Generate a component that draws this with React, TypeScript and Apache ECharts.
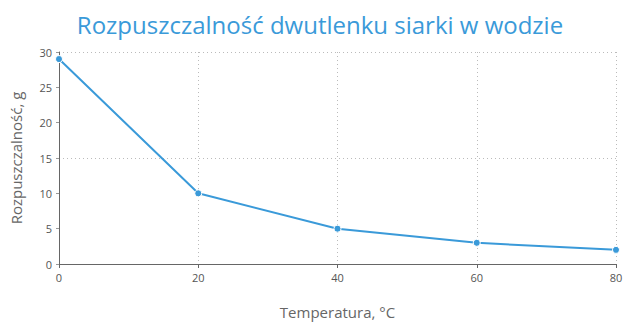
import React, { useEffect, useRef } from "react";
import * as echarts from "echarts";

const temperatures = [0, 20, 40, 60, 80];
const solubility = [29, 10, 5, 3, 2];
const titleText = "Rozpuszczalność dwutlenku siarki w wodzie";
const xName = "Temperatura, °C";
const yName = "Rozpuszczalność, g";

export default function App() {
  const ref = useRef<HTMLDivElement>(null);
  useEffect(() => {
    const chart = echarts.init(ref.current!, null, { renderer: "svg" });
    const font = "Open Sans";
    chart.setOption({
      animation: false,
      title: {
        text: titleText,
        left: "center",
        top: 7,
        textStyle: { fontFamily: font, fontSize: 24, fontWeight: "normal", color: "#3a9ad9" },
      },
      grid: { left: 59, right: 24, top: 52, bottom: 58 },
      xAxis: {
        type: "value",
        min: 0,
        max: 80,
        interval: 20,
        name: xName,
        nameLocation: "middle",
        nameGap: 40,
        nameTextStyle: { fontFamily: font, fontSize: 15, color: "#666" },
        axisLine: { show: true, onZero: false, lineStyle: { color: "#666", width: 1 } },
        axisTick: { show: true, length: 4, lineStyle: { color: "#666" } },
        axisLabel: { fontFamily: font, fontSize: 11, color: "#555", margin: 8 },
        splitLine: { show: true, lineStyle: { color: "#bbb", type: [1, 3], width: 1 } },
      },
      yAxis: [
        {
          type: "value",
          min: 0,
          max: 30,
          interval: 5,
          name: yName,
          nameLocation: "middle",
          nameGap: 36,
          nameTextStyle: { fontFamily: font, fontSize: 15, color: "#666" },
          axisLine: { show: true, lineStyle: { color: "#666", width: 1 } },
          axisTick: { show: true, length: 3, lineStyle: { color: "#999" } },
          axisLabel: { fontFamily: font, fontSize: 11, color: "#555", margin: 7 },
          splitLine: { show: false },
        },
        {
          type: "value",
          min: 0,
          max: 30,
          interval: 15,
          position: "left",
          axisLine: { show: false },
          axisTick: { show: false },
          axisLabel: { show: false },
          splitLine: { show: true, lineStyle: { color: "#bbb", type: [1, 3], width: 1 } },
        },
      ],
      series: [
        {
          type: "line",
          yAxisIndex: 0,
          data: temperatures.map((t, i) => [t, solubility[i]]),
          symbol: "circle",
          symbolSize: 7,
          lineStyle: { color: "#3a9ad9", width: 2 },
          itemStyle: { color: "#3a9ad9", borderColor: "#fff", borderWidth: 1 },
          z: 5,
        },
      ],
    });
    return () => chart.dispose();
  }, []);
  return <div ref={ref} style={{ width: 640, height: 324, position: "absolute", left: 0, top: 0 }} />;
}
